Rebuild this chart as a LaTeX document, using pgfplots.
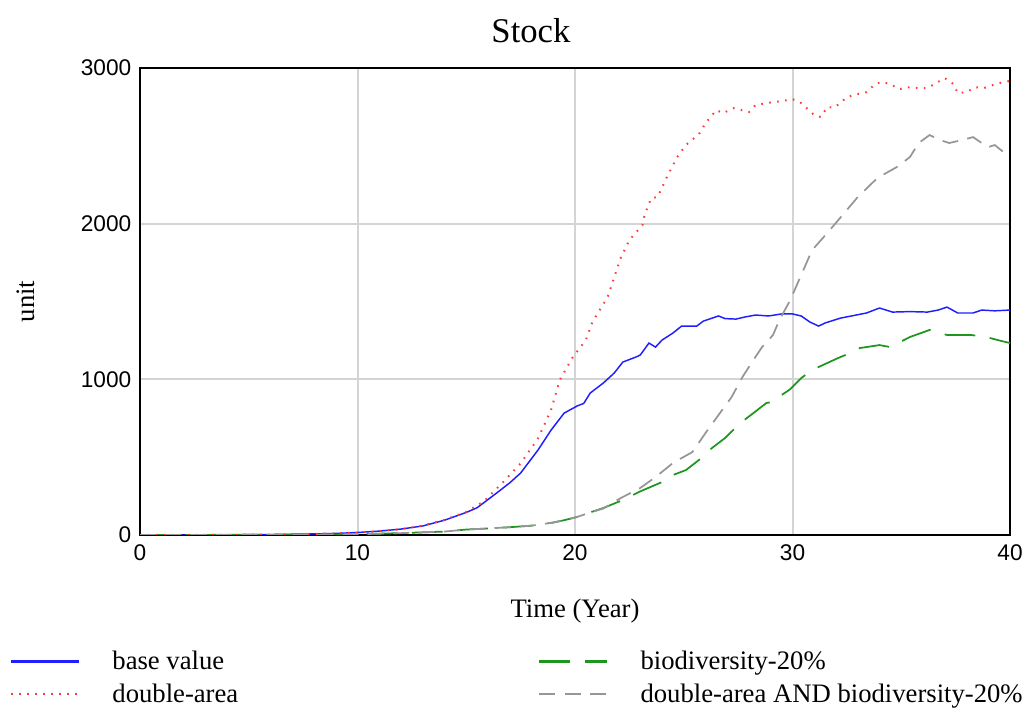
\documentclass[border=0pt]{standalone}
\usepackage{fontspec}
\setmainfont{Liberation Serif}
\newfontfamily\tickfont{Liberation Sans}
\usepackage{pgfplots}
\pgfplotsset{compat=1.18}

\definecolor{cblue}{RGB}{30,30,255}
\definecolor{cred}{RGB}{255,60,60}
\definecolor{cgreen}{RGB}{30,150,30}
\definecolor{cgray}{RGB}{150,150,150}
\definecolor{cgrid}{RGB}{212,212,212}

\begin{document}
\begin{tikzpicture}
\path[use as bounding box] (0,0) rectangle (774pt,531.75pt);
\begin{axis}[
  at={(105pt,130.5pt)}, anchor=south west,
  scale only axis, width=652.5pt, height=350.25pt,
  xmin=0, xmax=40, ymin=0, ymax=3000,
  xtick={0,10,20,30,40}, ytick={0,1000,2000,3000},
  grid=major, major grid style={cgrid, line width=1.5pt},
  major tick length=0pt,
  axis line style={line width=1.6pt},
  /pgf/number format/assume math mode=true,
  /pgf/number format/set thousands separator={},
  ticklabel style={font=\tickfont\fontsize{17}{20}\selectfont},
  xticklabel style={yshift=-4pt},
  yticklabel style={xshift=-3pt},
  title={Stock},
  title style={at={(axis description cs:0.4494,1.062)}, anchor=center, font=\fontsize{26}{30}\selectfont},
  xlabel={Time (Year)},
  xlabel style={at={(axis description cs:0.5,-0.1627)}, anchor=center, font=\fontsize{20}{24}\selectfont},
  ylabel={unit},
  ylabel style={at={(axis description cs:-0.1317,0.5)}, anchor=center, font=\fontsize{20}{24}\selectfont},
  legend columns=2,
  legend cell align=left,
  legend style={at={(axis description cs:-0.1494,-0.2484)}, anchor=north west, draw=none, fill=none,
    inner sep=0pt, font=\fontsize{20}{24}\selectfont, nodes={inner sep=0pt},
    row sep=9pt, /tikz/every odd column/.append style={column sep=24pt}},
  legend image code/.code={\draw[#1, line width=1.6pt] (0pt,0pt) -- (51pt,0pt);},
]
\addplot[color=cblue, line width=1.1pt] coordinates {
(0,0)(2,0)(4,1)(6,3)(8,7)(9,10)(10,16)(11,25)(12,38)(13,58)(14,95)(15,145)(15.5,175)(16.4,270)(17,335)(17.5,398)(18.3,546)(18.9,674)(19.5,783)(20.1,829)(20.4,845)(20.7,912)(21.3,976)(21.8,1040)(22.2,1111)(22.8,1143)(23.0,1156)(23.4,1233)(23.7,1207)(24.0,1252)(24.5,1297)(24.9,1342)(25.6,1342)(25.9,1374)(26.6,1407)(26.9,1390)(27.4,1387)(27.8,1400)(28.3,1413)(28.9,1407)(29.5,1420)(30.0,1420)(30.4,1407)(30.8,1368)(31.2,1342)(31.5,1362)(32.2,1393)(33.4,1426)(34.0,1458)(34.6,1432)(35.4,1435)(36.2,1432)(36.7,1445)(37.1,1464)(37.6,1426)(38.3,1426)(38.7,1445)(39.3,1440)(40,1445)
};
\addlegendentry{\makebox[319.5pt][l]{base value}}
\addplot[color=cgreen, line width=1.3pt, dash pattern=on 23pt off 11pt] coordinates {
(0,0)(4,1)(8,2)(10,5)(12,12)(14,22)(15,35)(16,42)(17,50)(18,60)(19,80)(19.5,95)(20.1,116)(20.6,141)(21.3,173)(22.2,225)(23.0,280)(24.0,340)(24.5,385)(25.1,417)(25.7,482)(26.3,559)(26.9,623)(27.6,719)(28.2,783)(28.8,848)(29.1,855)(29.5,899)(29.9,937)(30.4,1008)(30.9,1060)(31.4,1092)(32.1,1137)(32.5,1160)(33.1,1201)(34.0,1220)(34.5,1207)(35.4,1272)(36.3,1317)(37.1,1285)(38.2,1285)(38.9,1272)(39.5,1250)(40,1233)
};
\addlegendentry{biodiversity-20\%}
\addplot[color=cred, line width=1.5pt, dash pattern=on 1.2pt off 4.8pt] coordinates {
(0,0)(2,0)(4,1)(6,3)(8,7)(9,10)(10,16)(11,25)(12,38)(13,60)(14,97)(15,148)(15.8,215)(16.7,340)(17.5,460)(18.3,620)(18.9,803)(19.3,996)(19.9,1143)(20.5,1252)(20.8,1368)(21.5,1529)(22.1,1779)(22.5,1895)(23.1,1991)(23.2,2055)(23.5,2164)(23.8,2171)(24.2,2293)(24.7,2428)(25.1,2505)(25.7,2575)(26.0,2646)(26.5,2730)(26.8,2710)(27.3,2742)(28.0,2717)(28.3,2762)(29.1,2781)(29.5,2787)(30.0,2800)(30.4,2775)(31.0,2697)(31.3,2685)(31.6,2749)(31.9,2745)(32.2,2775)(32.5,2813)(33.0,2832)(33.4,2845)(33.8,2897)(34.1,2910)(34.5,2897)(34.9,2864)(35.4,2877)(35.8,2871)(36.2,2871)(36.6,2903)(37.0,2935)(37.4,2897)(37.6,2839)(38.0,2845)(38.4,2877)(38.8,2871)(39.2,2890)(39.7,2910)(40,2916)
};
\addlegendentry{\makebox[319.5pt][l]{double-area}}
\addplot[color=cgray, line width=1.3pt, dash pattern=on 12pt off 7pt] coordinates {
(0,0)(4,1)(8,2)(10,5)(12,12)(14,22)(15,35)(16,42)(17,50)(18,60)(19,80)(19.5,95)(20.1,116)(20.6,140)(21.3,170)(22.1,237)(23.0,302)(23.7,372)(24.5,462)(24.9,494)(25.4,533)(26.0,655)(26.6,771)(27.2,886)(27.7,1015)(28.2,1124)(28.6,1207)(29.1,1284)(29.4,1381)(29.9,1510)(30.2,1606)(30.9,1830)(31.6,1940)(32.3,2055)(33.0,2171)(33.9,2293)(34.8,2364)(35.4,2428)(35.8,2518)(36.3,2569)(36.8,2537)(37.2,2518)(37.8,2537)(38.3,2556)(38.7,2518)(39.0,2492)(39.3,2505)(39.7,2460)(40,2453)
};
\addlegendentry{double-area AND biodiversity-20\%}
\end{axis}
\end{tikzpicture}
\end{document}
